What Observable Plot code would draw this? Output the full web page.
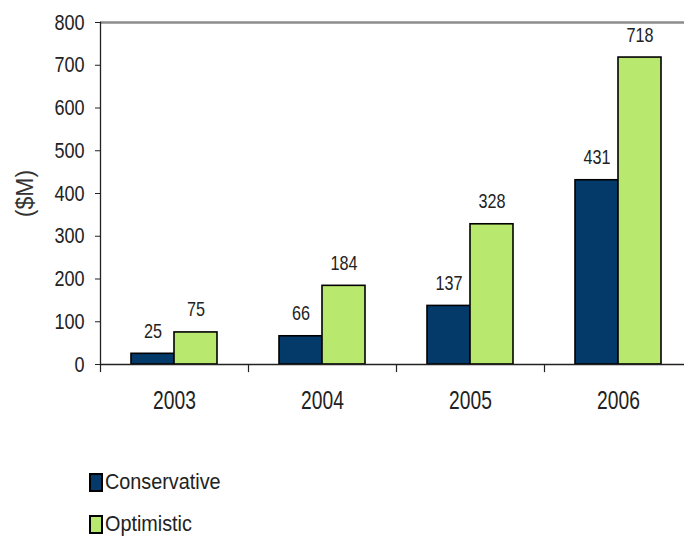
<!DOCTYPE html>
<html><head><meta charset="utf-8">
<script src="https://cdn.jsdelivr.net/npm/d3@7"></script>
<script src="https://cdn.jsdelivr.net/npm/@observablehq/plot@0.6"></script>
<style>
body{margin:0;background:#fff;}
#wrap{position:relative;width:684px;height:536px;overflow:hidden;font-family:"Liberation Sans",Arial,sans-serif;}
.legend{position:absolute;left:89px;font-size:22px;color:#222;display:flex;align-items:center;line-height:1}
.legend span{display:inline-block;transform:scaleX(0.9);transform-origin:left center;}
.sw{width:10px;height:15px;border:2px solid #000;margin-right:2px}
</style></head><body><div id="wrap"></div>
<script>
const years = ["2003","2004","2005","2006"];
const conservative = [25, 66, 137, 431];
const optimistic = [75, 184, 328, 718];
const seriesNames = ["Conservative", "Optimistic"];
const seriesColors = ["#033a6a", "#b9e86f"];
const yTicks = [0, 100, 200, 300, 400, 500, 600, 700, 800];
const yLabel = "($M)";

const W = 684, H = 440, mL = 100, mR = -8, mT = 22, mB = 76;
const bw = (W - mL - mR) / years.length;
const barW = 43;
const outer = (bw - 2 * barW) / 2;

const cons = years.map((year, i) => ({year, series: seriesNames[0], value: conservative[i]}));
const opt = years.map((year, i) => ({year, series: seriesNames[1], value: optimistic[i]}));

const chart = Plot.plot({
  width: W, height: H,
  marginLeft: mL, marginRight: mR, marginTop: mT, marginBottom: mB,
  style: {fontFamily: '"Liberation Sans",Arial,sans-serif', color: "#222", background: "transparent", overflow: "visible"},
  x: {domain: years, paddingInner: 0, paddingOuter: 0},
  y: {domain: [0, 800]},
  marks: [
    Plot.ruleY([800], {stroke: "#8c8c8c", strokeWidth: 2.5}),
    Plot.barY(cons, {x: "year", y: "value", fill: seriesColors[0], stroke: "#000", strokeWidth: 1.6, insetLeft: outer, insetRight: outer + barW}),
    Plot.barY(opt, {x: "year", y: "value", fill: seriesColors[1], stroke: "#000", strokeWidth: 1.6, insetLeft: outer + barW, insetRight: outer}),
    Plot.text(cons, {x: "year", y: "value", text: d => String(d.value), dx: -barW / 2, dy: -16, lineAnchor: "bottom", fontSize: 21, fill: "#222", className: "sq77"}),
    Plot.text(opt, {x: "year", y: "value", text: d => String(d.value), dx: barW / 2, dy: -16, lineAnchor: "bottom", fontSize: 21, fill: "#222", className: "sq77"}),
    Plot.frame({anchor: "left", stroke: "#222", strokeWidth: 1.3}),
    Plot.ruleY([0], {stroke: "#222", strokeWidth: 1.3}),
    Plot.ruleX(years, {x: d => d, y1: 0, y2: -19, dx: -bw / 2, stroke: "#222", strokeWidth: 1.2}),
    Plot.axisY({ticks: yTicks, tickSize: 5, tickPadding: 11, fontSize: 22, label: null, stroke: "#222", className: "sq82"}),
    Plot.axisX({tickSize: 0, tickPadding: 27, fontSize: 25, label: null, className: "sq77"}),
    Plot.text([yLabel], {frameAnchor: "left", textAnchor: "middle", lineAnchor: "middle", dx: -75, rotate: -90, fontSize: 23, fill: "#333", text: d => d})
  ]
});
const wrap = document.getElementById("wrap");
wrap.appendChild(chart);

// condense glyphs to mimic the narrow face of the original
function squeeze(sel, k) {
  d3.select(chart).selectAll(sel).each(function() {
    const len = this.getComputedTextLength();
    if (len > 0) {
      this.setAttribute("textLength", (len * k).toFixed(2));
      this.setAttribute("lengthAdjust", "spacingAndGlyphs");
    }
  });
}
squeeze(".sq77 text", 0.77);
squeeze(".sq82 text", 0.82);

seriesNames.forEach((name, i) => {
  const row = document.createElement("div");
  row.className = "legend";
  row.style.top = (471 + i * 42) + "px";
  const sw = document.createElement("div");
  sw.className = "sw";
  sw.style.background = seriesColors[i];
  const t = document.createElement("span");
  t.textContent = name;
  row.appendChild(sw); row.appendChild(t);
  wrap.appendChild(row);
});
</script></body></html>
